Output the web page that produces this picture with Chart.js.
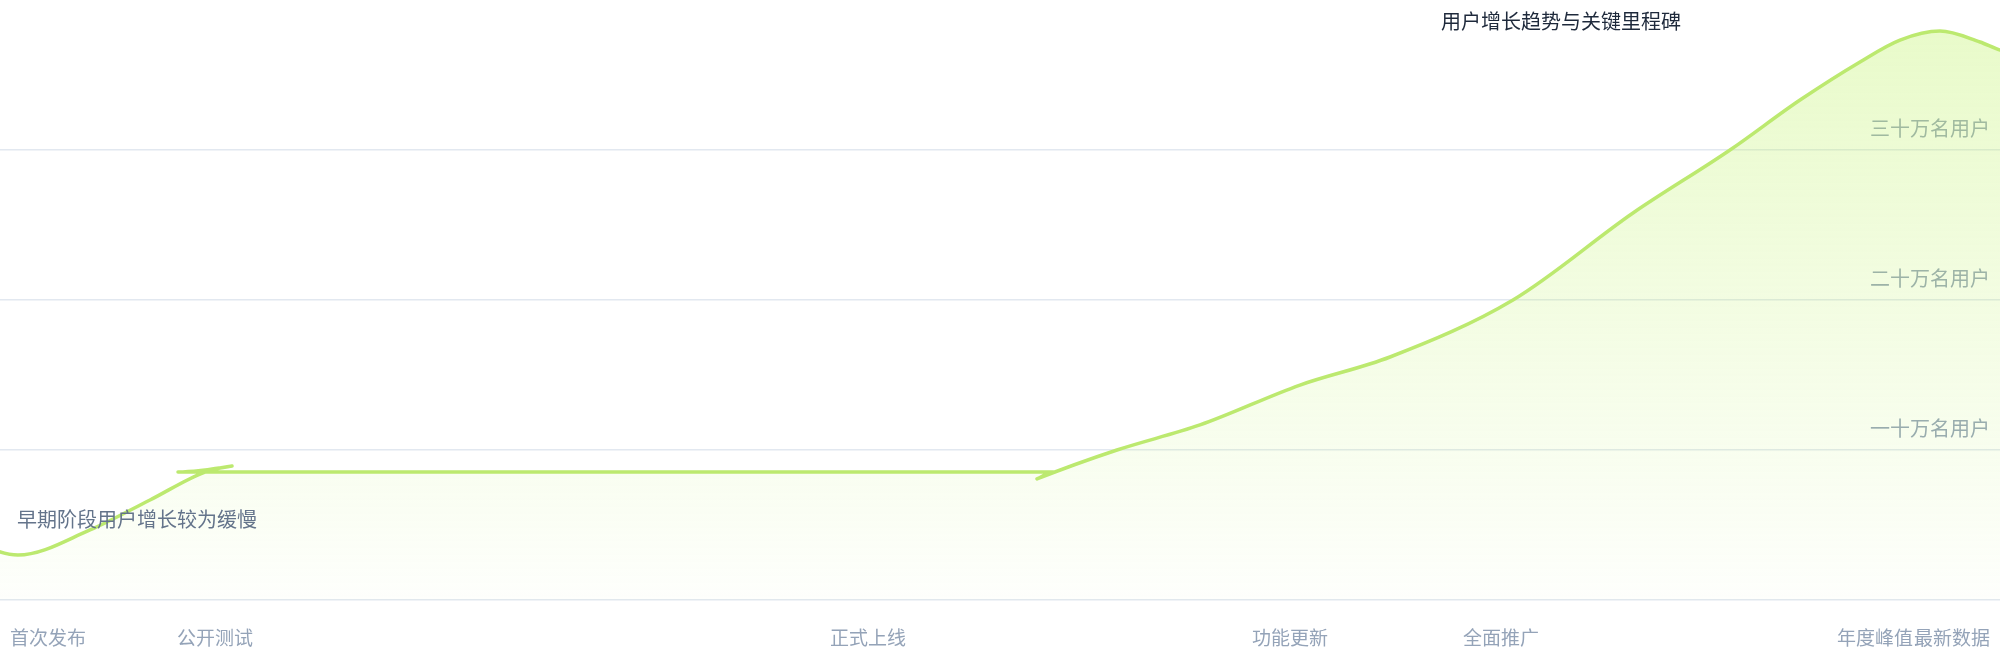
<!DOCTYPE html>
<html>
<head>
<meta charset="utf-8">
<script src="https://cdn.jsdelivr.net/npm/chart.js@4.4.1/dist/chart.umd.min.js"></script>
<style>
    html, body { margin: 0; padding: 0; background: #ffffff; }
    #wrap { width: 2000px; height: 660px; position: relative; }
</style>
</head>
<body>
<div id="wrap"><canvas id="chart"></canvas></div>
<script>
// x = day index (0..100), y = users; points kept in the order they were logged
const DAYS = [-2, 0.9, 4.5, 7.5, 10.25, 11.6, 8.9, 52.65, 51.85, 55.85, 60, 65, 69.5, 75.65, 81.65, 86.5, 90, 93, 95, 97, 99, 100, 101.5];
const USERS = [42700, 30000, 46700, 66700, 85300, 89300, 85300, 85300, 80700, 100000, 116700, 143300, 162000, 200000, 258000, 300000, 333300, 358700, 373300, 379300, 372000, 366700, 363300];

const MILESTONE_DAYS = [2.4, 10.75, 43.4, 64.5, 75.05, 93.75, 97.6];
const MILESTONES = ['首次发布', '公开测试', '正式上线', '功能更新', '全面推广', '年度峰值', '最新数据'];
const Y_TICKS = [100000, 200000, 300000];
const Y_LABELS = ['一十万名用户', '二十万名用户', '三十万名用户'];

const TITLE = '用户增长趋势与关键里程碑';
const NOTE = '早期阶段用户增长较为缓慢';

const FONT = '"Noto Sans CJK SC", "DejaVu Sans", sans-serif';

const points = [];
for(let i = 0; i < DAYS.length; i++){
    points.push({x: DAYS[i], y: USERS[i]});
}

const textPlugin = {
    id: 'texts',
    afterDatasetsDraw(chart){
        const ctx = chart.ctx;
        const xs = chart.scales.x;
        const ys = chart.scales.y;
        ctx.save();
        ctx.font = '20px ' + FONT;
        ctx.textAlign = 'left';
        ctx.textBaseline = 'middle';
        ctx.fillStyle = '#1e293b';
        ctx.fillText(TITLE, xs.getPixelForValue(72.05), ys.getPixelForValue(385500));
        ctx.fillStyle = '#64748b';
        ctx.fillText(NOTE, xs.getPixelForValue(0.85), ys.getPixelForValue(54000));
        ctx.restore();
    }
};

new Chart(document.getElementById('chart'), {
    type: 'line',
    data: {
        datasets: [{
            data: points,
            borderColor: '#bce96f',
            borderWidth: 3.5,
            borderCapStyle: 'round',
            borderJoinStyle: 'round',
            pointRadius: 0,
            cubicInterpolationMode: 'monotone',
            fill: 'origin',
            backgroundColor: (c) => {
                const area = c.chart.chartArea;
                if(!area) return 'rgba(190,242,100,0.2)';
                const g = c.chart.ctx.createLinearGradient(0, area.top, 0, area.bottom);
                g.addColorStop(0, 'rgba(190,242,100,0.36)');
                g.addColorStop(1, 'rgba(190,242,100,0.02)');
                return g;
            }
        }]
    },
    options: {
        responsive: true,
        maintainAspectRatio: false,
        devicePixelRatio: 1,
        animation: false,
        layout: { padding: 0 },
        plugins: {
            legend: { display: false },
            tooltip: { enabled: false }
        },
        scales: {
            x: {
                type: 'linear',
                min: 0,
                max: 100,
                afterBuildTicks: (scale) => {
                    scale.ticks = MILESTONE_DAYS.map(v => ({value: v}));
                },
                afterFit: (scale) => {
                    // keep the plot full width, 60px strip for labels
                    scale.height = 60;
                    scale.paddingLeft = 0;
                    scale.paddingRight = 0;
                },
                grid: { display: false },
                border: { display: false },
                ticks: {
                    autoSkip: false,
                    maxRotation: 0,
                    padding: 18,
                    color: '#94a3b8',
                    font: { family: FONT, size: 19 },
                    callback: (v) => MILESTONES[MILESTONE_DAYS.indexOf(v)]
                }
            },
            y: {
                position: 'right',
                min: 0,
                max: 400000,
                afterBuildTicks: (scale) => {
                    scale.ticks = [0, ...Y_TICKS].map(v => ({value: v}));
                },
                afterFit: (scale) => {
                    scale.width = 0;
                    scale.paddingTop = 0;
                    scale.paddingBottom = 0;
                },
                grid: { color: '#e2e8f0', lineWidth: 1.5, drawTicks: false },
                border: { display: false },
                ticks: {
                    mirror: true,
                    padding: -10,
                    labelOffset: -22,
                    color: '#94a3b8',
                    font: { family: FONT, size: 20 },
                    callback: (v) => {
                        const i = Y_TICKS.indexOf(v);
                        return i < 0 ? '' : Y_LABELS[i];
                    }
                }
            }
        }
    },
    plugins: [textPlugin]
});
</script>
</body>
</html>
